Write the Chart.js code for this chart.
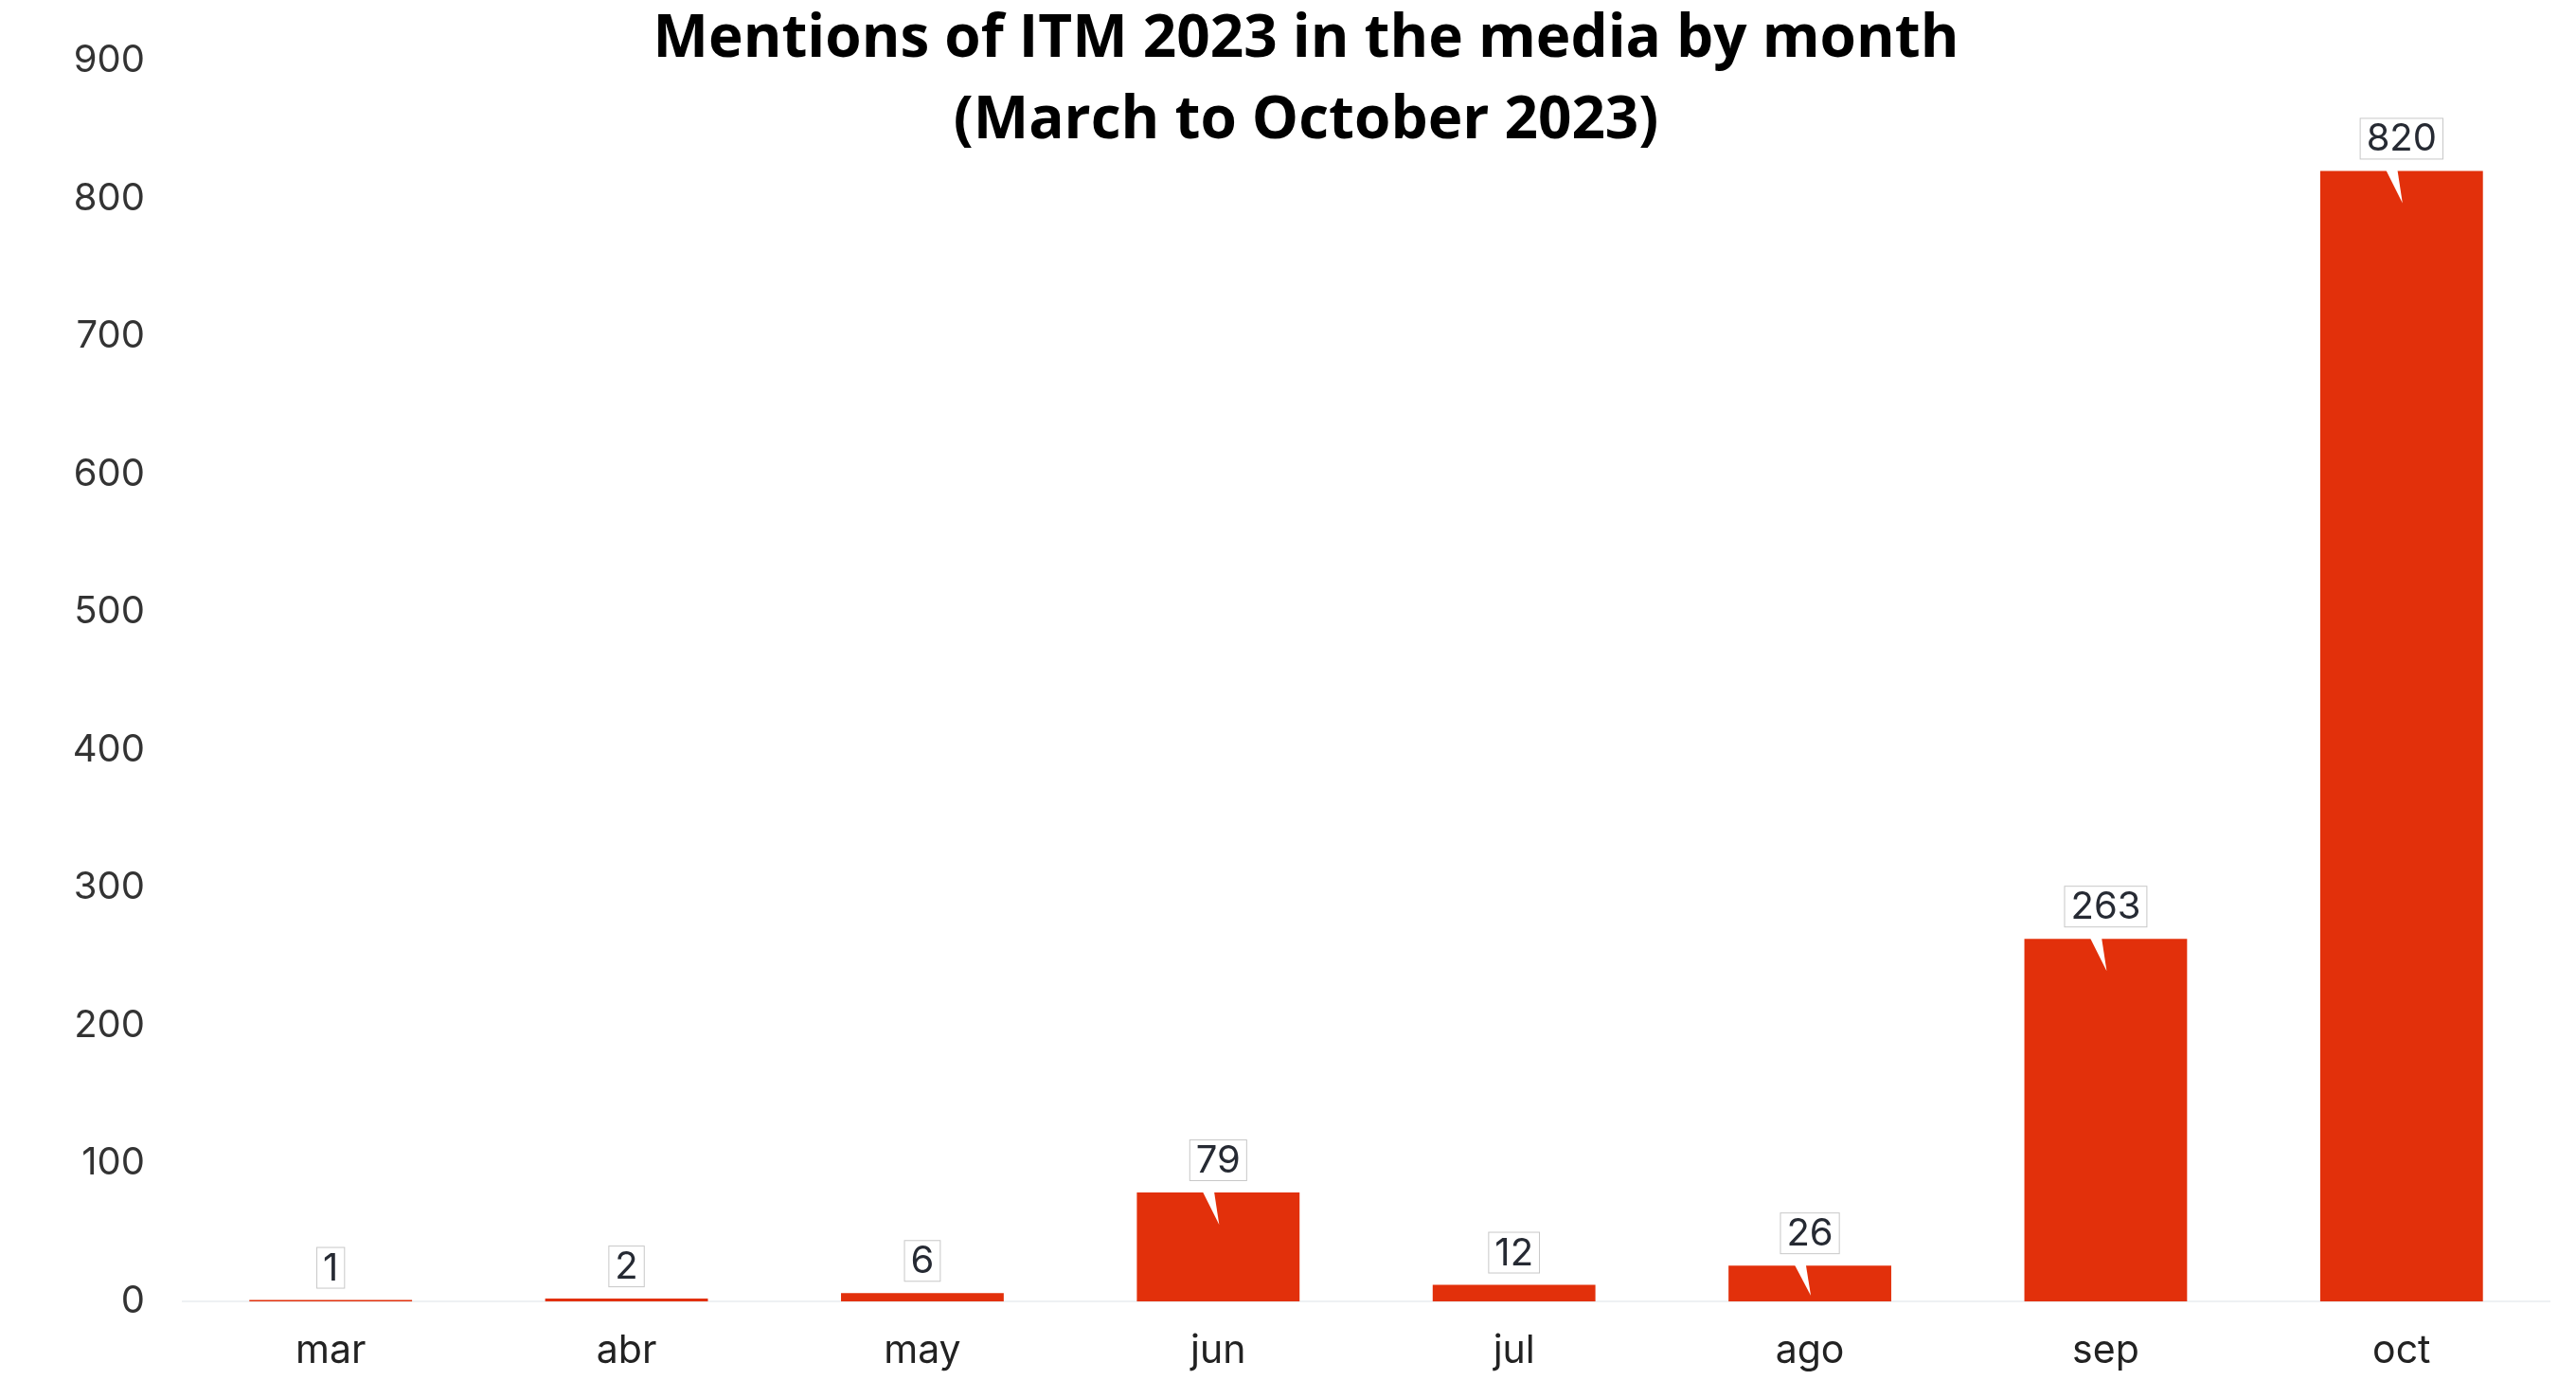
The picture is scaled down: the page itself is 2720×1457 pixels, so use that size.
<!DOCTYPE html>
<html>
<head>
<meta charset="utf-8">
<script src="https://cdn.jsdelivr.net/npm/chart.js@4.4.0/dist/chart.umd.min.js"></script>
<style>
  body { margin: 0; background: #fff; }
  #wrap { width: 2720px; height: 1457px; position: relative; }
</style>
</head>
<body>
<div id="wrap"><canvas id="chartContainer"></canvas></div>
<script>
// data
const months = ['mar', 'abr', 'may', 'jun', 'jul', 'ago', 'sep', 'oct'];
const mentions = [1, 2, 6, 79, 12, 26, 263, 820];
const yMax = 900;
const yStep = 100;
const titleLines = ['Mentions of ITM 2023 in the media by month', '(March to October 2023)'];

const barColor = '#e2300b';
const textFont = 'Inter';

// bold title sits over the top of the plot, like the original
const titlePlugin = {
  id: 'overTitle',
  afterDraw(chart) {
    const ctx = chart.ctx;
    ctx.save();
    ctx.fillStyle = '#000';
    ctx.font = 'bold 62px "Open Sans"';
    ctx.textAlign = 'center';
    ctx.textBaseline = 'middle';
    ctx.fillText(titleLines[0], 1379, 42);
    ctx.fillText(titleLines[1], 1379, 128);
    ctx.restore();
  }
};

// value boxes with a small white pointer into the bar
const calloutPlugin = {
  id: 'callouts',
  afterDatasetsDraw(chart) {
    const ctx = chart.ctx;
    const meta = chart.getDatasetMeta(0);
    ctx.save();
    ctx.font = '40px ' + textFont;
    ctx.textAlign = 'center';
    ctx.textBaseline = 'middle';
    meta.data.forEach((bar, i) => {
      const txt = String(mentions[i]);
      const w = ctx.measureText(txt).width + 14;
      const cx = bar.x;
      const top = bar.y;
      const boxBottom = top - 12;
      const boxTop = top - 56;
      const barH = bar.base - bar.y;

      if (barH > 24) {
        const tip = Math.min(34, barH - 6);
        ctx.fillStyle = '#fff';
        ctx.beginPath();
        ctx.moveTo(cx - 22, boxBottom);
        ctx.lineTo(cx - 6, boxBottom);
        ctx.lineTo(cx + 1, top + tip);
        ctx.closePath();
        ctx.fill();
      }

      ctx.fillStyle = '#fff';
      ctx.fillRect(cx - w / 2, boxTop, w, boxBottom - boxTop);
      ctx.strokeStyle = '#c8c8c8';
      ctx.lineWidth = 1;
      ctx.strokeRect(cx - w / 2 + 0.5, boxTop + 0.5, w - 1, boxBottom - boxTop - 1);

      ctx.fillStyle = '#262a33';
      ctx.fillText(txt, cx, top - 33);
    });
    ctx.restore();
  }
};

const ctx = document.getElementById('chartContainer');

new Chart(ctx, {
  type: 'bar',
  data: {
    labels: months,
    datasets: [{
      data: mentions,
      backgroundColor: barColor,
      borderWidth: 0,
      categoryPercentage: 1,
      barPercentage: 0.55
    }]
  },
  options: {
    responsive: true,
    maintainAspectRatio: false,
    animation: false,
    layout: {
      padding: { top: 64, right: 28, bottom: 0, left: 0 }
    },
    plugins: {
      legend: { display: false },
      tooltip: { enabled: false }
    },
    scales: {
      x: {
        grid: { display: false, drawTicks: false },
        border: { display: true, color: '#eef1f3', width: 2 },
        ticks: {
          color: '#222',
          padding: 28,
          font: { family: textFont, size: 41 }
        },
        afterFit(scale) { scale.height = 83; }
      },
      y: {
        min: 0,
        max: yMax,
        grid: { display: false, drawTicks: false },
        border: { display: false },
        ticks: {
          stepSize: yStep,
          color: '#333',
          padding: 40,
          font: { family: textFont, size: 40 }
        },
        afterFit(scale) { scale.width = 193; }
      }
    }
  },
  plugins: [titlePlugin, calloutPlugin]
});
</script>
</body>
</html>
